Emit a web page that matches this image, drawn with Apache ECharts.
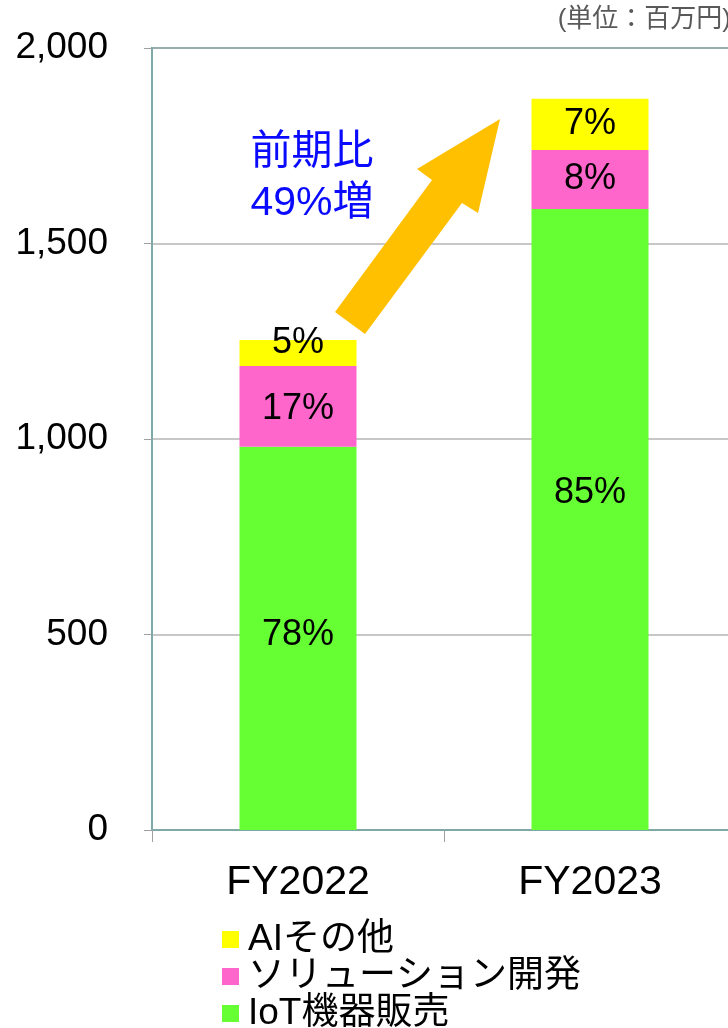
<!DOCTYPE html>
<html><head><meta charset="utf-8">
<script src="https://cdn.jsdelivr.net/npm/echarts@6/dist/echarts.min.js"></script>
<style>html,body{margin:0;padding:0;background:#fff;overflow:hidden}#c{width:736px;height:1028px}</style>
</head><body><div id="c"></div>
<script>
const categories = ['FY2022', 'FY2023'];
const iotSales = [980, 1588];
const solutionDev = [207, 151];
const aiOther = [66, 131];
const yTicks = [0, 500, 1000, 1500, 2000];
const seriesNames = ['IoT機器販売', 'ソリューション開発', 'AIその他'];

const totals = categories.map((_, i) => iotSales[i] + solutionDev[i] + aiOther[i]);
const fontEn = '"Liberation Sans", Arial, "Noto Sans CJK JP", sans-serif';
const fontJp = '"Liberation Sans", "Noto Sans CJK JP", sans-serif';

// label placement tweaks (style only): [seriesIndex][categoryIndex] -> vertical nudge in px
const labelNudge = [[-3, -26], [3, 0], [-10, 0]];

function pctLabel(p) {
  return Math.round(p.value / totals[p.dataIndex] * 100) + '%';
}
function mk(si, data, color) {
  return {
    name: seriesNames[si], type: 'bar', stack: 'total', barWidth: 117,
    data: data.map((v, i) => ({ value: v, label: { offset: [0, labelNudge[si][i]] } })),
    itemStyle: { color: color },
    label: { show: true, position: 'inside', formatter: pctLabel, color: '#000', fontSize: 36, fontFamily: fontEn },
    emphasis: { disabled: true }
  };
}

const chart = echarts.init(document.getElementById('c'));
chart.setOption({
  animation: false,
  backgroundColor: '#fff',
  grid: { left: 152, right: 0, top: 48, bottom: 198, show: true, borderColor: '#4d9a98', borderWidth: 2, backgroundColor: 'transparent' },
  xAxis: {
    type: 'category', data: categories,
    axisLine: { show: true, lineStyle: { color: '#7fa9a9', width: 2 } },
    axisTick: { show: true, length: 12, lineStyle: { color: '#a0a0a0', width: 1 } },
    axisLabel: { color: '#000', fontSize: 41, fontFamily: fontEn, margin: 32 }
  },
  yAxis: {
    type: 'value', min: yTicks[0], max: yTicks[yTicks.length - 1], interval: yTicks[1] - yTicks[0],
    axisLine: { show: true, lineStyle: { color: '#7fa9a9', width: 2 } },
    axisTick: { show: true, length: 8, lineStyle: { color: '#a0a0a0' } },
    splitLine: { show: true, lineStyle: { color: '#b4b4b4', width: 1.5 } },
    axisLabel: { color: '#000', fontSize: 37, fontFamily: fontEn, margin: 44,
      formatter: v => v.toLocaleString('en-US') }
  },
  legend: {
    orient: 'vertical', left: 222, top: 921, height: 140, padding: 0,
    itemWidth: 17, itemHeight: 17, itemGap: 0,
    icon: 'rect', selectedMode: false,
    data: [seriesNames[2], seriesNames[1], seriesNames[0]],
    textStyle: { color: '#000', fontSize: 37, lineHeight: 37, fontFamily: fontJp, padding: [0, 0, 0, 4] }
  },
  series: [
    mk(0, iotSales, '#66ff33'),
    mk(1, solutionDev, '#ff66cc'),
    mk(2, aiOther, '#ffff00')
  ],
  graphic: [
    { type: 'polygon', z: 100,
      shape: { points: [[500,119],[478,213],[462,203],[365,334],[335,312],[432,180],[417,169]] },
      style: { fill: '#ffc000' } },
    { type: 'text', z: 100, x: 312, y: 127,
      style: { text: '前期比\n49%増', fill: '#0a0aff', font: '41px ' + fontJp, align: 'center', lineHeight: 51 } },
    { type: 'text', z: 100, x: 731, y: 7,
      style: { text: '(単位：百万円)', fill: '#595959', font: '26px ' + fontJp, align: 'right' } }
  ]
});
</script></body></html>
